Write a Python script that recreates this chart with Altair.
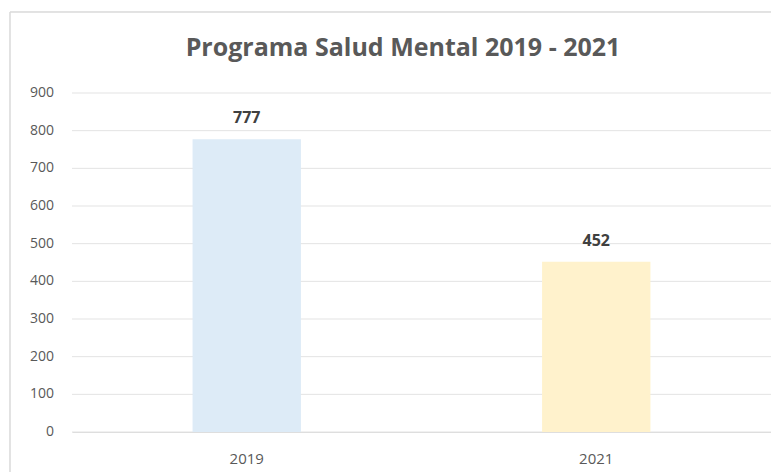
import altair as alt
import pandas as pd

years = ["2019", "2021"]
values = [777, 452]
colors = ["#DDEBF7", "#FFF2CC"]
y_ticks = [0, 100, 200, 300, 400, 500, 600, 700, 800, 900]
title_text = "Programa Salud Mental 2019 - 2021"

df = pd.DataFrame({"year": years, "value": values, "color": colors})
ticks_df = pd.DataFrame({"value": y_ticks})

FONT = "Open Sans"
W, H = 699, 339

y_scale = alt.Scale(domain=[0, 900], nice=False)

x_enc = alt.X("year:N", sort=years, title=None,
              scale=alt.Scale(paddingInner=0.69, paddingOuter=0.345),
              axis=alt.Axis(labelAngle=0, labelFontSize=15, labelColor="#595959",
                            labelFont=FONT, ticks=False, domainColor="#d9d9d9",
                            labelPadding=19, grid=False))

grid = alt.Chart(ticks_df).mark_rule(color="#e3e3e3", strokeWidth=1).encode(
    y=alt.Y("value:Q", scale=y_scale, axis=None),
    x=alt.value(0), x2=alt.value(W),
)

ylabels = alt.Chart(ticks_df).mark_text(
    align="right", baseline="middle", fontSize=14, font=FONT, color="#595959"
).encode(
    y=alt.Y("value:Q", scale=y_scale, axis=None),
    x=alt.value(-18),
    text="value:Q",
)

bars = alt.Chart(df).mark_bar().encode(
    x=x_enc,
    y=alt.Y("value:Q", scale=y_scale, axis=None),
    color=alt.Color("color:N", scale=None),
)

labels = alt.Chart(df).mark_text(dy=-21, fontSize=16, fontWeight="bold",
                                 color="#404040", font=FONT).encode(
    x=alt.X("year:N", sort=years),
    y=alt.Y("value:Q", scale=y_scale, axis=None),
    text="value:Q",
)

title = alt.Chart(pd.DataFrame({"t": [title_text]})).mark_text(
    fontSize=25, font=FONT, fontWeight="bold", color="#595959",
    align="center", baseline="middle").encode(
    text="t:N", x=alt.value(331), y=alt.value(-45)
)

border = alt.Chart(df).mark_rect(fill=None, stroke="#d9d9d9", strokeWidth=1).encode(
    x=alt.value(-62), x2=alt.value(780), y=alt.value(-81), y2=alt.value(460)
)

chart = alt.layer(grid, bars, labels, ylabels, title, border).properties(
    width=W,
    height=H,
    autosize=alt.AutoSizeParams(type="none"),
    padding={"left": 64, "top": 85, "right": 0, "bottom": 40},
).configure_view(stroke=None)

chart.save("out.html", embed_options={"renderer": "svg", "actions": False})
